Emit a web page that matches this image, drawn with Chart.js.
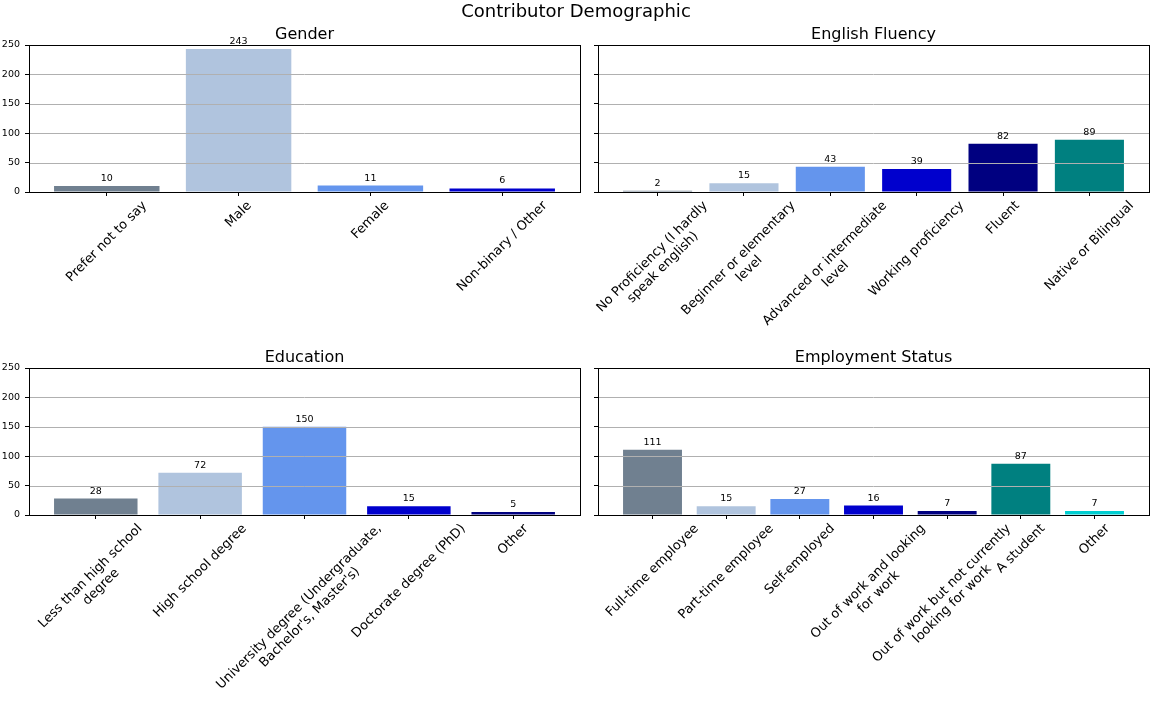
<!DOCTYPE html>
<html>
<head>
<meta charset="utf-8">
<script src="https://cdn.jsdelivr.net/npm/chart.js@4/dist/chart.umd.min.js"></script>
<style>
  html, body { margin: 0; padding: 0; background: #ffffff; }
  #wrap { position: relative; width: 1152px; height: 720px; background: #ffffff; }
  #wrap canvas { position: absolute; left: 0; top: 0; }
</style>
</head>
<body>
<div id="wrap">
  <canvas id="c1" width="1152" height="720"></canvas>
  <canvas id="c2" width="1152" height="720"></canvas>
  <canvas id="c3" width="1152" height="720"></canvas>
  <canvas id="c4" width="1152" height="720"></canvas>
</div>
<script>
// ---------------- data ----------------
const figureTitle = 'Contributor Demographic';

const genderTitle = 'Gender';
const genderCategories = ['Prefer not to say', 'Male', 'Female', 'Non-binary / Other'];
const genderCounts = [10, 243, 11, 6];

const fluencyTitle = 'English Fluency';
const fluencyCategories = ['No Proficiency (I hardly\nspeak english)', 'Beginner or elementary\nlevel',
  'Advanced or intermediate\nlevel', 'Working proficiency', 'Fluent', 'Native or Bilingual'];
const fluencyCounts = [2, 15, 43, 39, 82, 89];

const educationTitle = 'Education';
const educationCategories = ['Less than high school\ndegree', 'High school degree',
  "University degree (Undergraduate,\nBachelor's, Master's)", 'Doctorate degree (PhD)', 'Other'];
const educationCounts = [28, 72, 150, 15, 5];

const employmentTitle = 'Employment Status';
const employmentCategories = ['Full-time employee', 'Part-time employee', 'Self-employed',
  'Out of work and looking\nfor work', 'Out of work but not currently\nlooking for work', 'A student', 'Other'];
const employmentCounts = [111, 15, 27, 16, 7, 87, 7];

const yTickValues = [0, 50, 100, 150, 200, 250];
const barColors = ['#708090', '#B0C4DE', '#6495ED', '#0000CD', '#000080', '#008080', '#00CED1'];

// ---------------- styling / layout ----------------
const FONT = '"DejaVu Sans", sans-serif';
const Y_AXIS_W = 29;
const X_AXIS_H = 5;
const CW = 1152, CH = 720;

function frameAndTextPlugin(title, categories, counts, drawSuptitle) {
  return {
    id: 'mplStyle',
    afterDatasetsDraw(chart) {
      const ctx = chart.ctx;
      const a = chart.chartArea;
      const xs = chart.scales.x, ys = chart.scales.y;
      ctx.save();
      // horizontal grid lines on top of bars
      ctx.strokeStyle = '#b0b0b0';
      ctx.lineWidth = 1;
      yTickValues.forEach(v => {
        const y = Math.round(ys.getPixelForValue(v)) + 0.5;
        ctx.beginPath(); ctx.moveTo(a.left, y); ctx.lineTo(a.right, y); ctx.stroke();
      });
      // frame (spines)
      ctx.strokeStyle = '#000000';
      ctx.strokeRect(Math.round(a.left) + 0.5, Math.round(a.top) + 0.5,
        Math.round(a.right - a.left), Math.round(a.bottom - a.top));
      // value labels
      ctx.fillStyle = '#000000';
      ctx.font = '9.5px ' + FONT;
      ctx.textAlign = 'center';
      ctx.textBaseline = 'alphabetic';
      counts.forEach((v, i) => {
        const x = xs.getPixelForValue(i);
        const y = ys.getPixelForValue(v);
        ctx.fillText(String(v), x, y - 5);
      });
      // x tick labels, rotated 45 deg, centered on tick (matplotlib style)
      const fs = 13;
      ctx.font = fs + 'px ' + FONT;
      const spacing = 1.16 * fs;
      const ascent = 0.76 * fs;
      categories.forEach((c, i) => {
        const lines = c.split('\n');
        const W = Math.max(...lines.map(l => ctx.measureText(l).width));
        const H = (lines.length - 1) * spacing + 1.0 * fs;
        const side = (W + H) / Math.SQRT2;
        const cx = xs.getPixelForValue(i);
        const cy = a.bottom + 7 + side / 2;
        ctx.save();
        ctx.translate(cx, cy);
        ctx.rotate(-Math.PI / 4);
        ctx.textAlign = 'center';
        ctx.textBaseline = 'alphabetic';
        lines.forEach((l, k) => {
          ctx.fillText(l, 0, -H / 2 + ascent + k * spacing);
        });
        ctx.restore();
      });
      // subplot title
      ctx.font = '16px ' + FONT;
      ctx.textAlign = 'center';
      ctx.textBaseline = 'alphabetic';
      ctx.fillText(title, (a.left + a.right) / 2, a.top - 6);
      if (drawSuptitle) {
        ctx.font = '18px ' + FONT;
        ctx.fillText(figureTitle, CW / 2, 17);
      }
      ctx.restore();
    }
  };
}

function makeChart(id, title, categories, counts, box, showYLabels, drawSuptitle) {
  const n = categories.length;
  const span = (n - 1) + 0.8;
  const xmin = -0.4 - 0.05 * span;
  const xmax = (n - 1) + 0.4 + 0.05 * span;
  return new Chart(document.getElementById(id), {
    type: 'bar',
    data: {
      datasets: [{
        data: counts.map((v, i) => ({ x: i, y: v })),
        backgroundColor: barColors.slice(0, n),
        borderWidth: 0,
        categoryPercentage: 1.0,
        barPercentage: 0.8
      }]
    },
    options: {
      responsive: false,
      animation: false,
      events: [],
      layout: {
        padding: {
          left: box.left - Y_AXIS_W,
          right: CW - box.right,
          top: box.top,
          bottom: CH - box.bottom - X_AXIS_H
        }
      },
      plugins: { legend: { display: false }, tooltip: { enabled: false }, title: { display: false } },
      scales: {
        x: {
          type: 'linear',
          min: xmin,
          max: xmax,
          offset: false,
          afterBuildTicks: s => { s.ticks = categories.map((c, i) => ({ value: i })); },
          afterFit: s => { s.height = X_AXIS_H; },
          ticks: { display: false },
          grid: { offset: false, drawOnChartArea: false, drawTicks: true, tickLength: 4, color: '#000000', lineWidth: 1 },
          border: { display: true, color: '#000000', width: 1 }
        },
        y: {
          type: 'linear',
          min: 0,
          max: 250,
          afterBuildTicks: s => { s.ticks = yTickValues.map(v => ({ value: v })); },
          afterFit: s => { s.width = Y_AXIS_W; },
          ticks: {
            display: showYLabels,
            color: '#000000',
            padding: 5,
            font: { family: FONT, size: 9.5 }
          },
          grid: { drawOnChartArea: false, drawTicks: true, tickLength: 4, color: '#000000', lineWidth: 1 },
          border: { display: true, color: '#000000', width: 1 }
        }
      }
    },
    plugins: [frameAndTextPlugin(title, categories, counts, drawSuptitle)]
  });
}

makeChart('c1', genderTitle, genderCategories, genderCounts, { left: 29, right: 580, top: 45, bottom: 192 }, true, true);
makeChart('c2', fluencyTitle, fluencyCategories, fluencyCounts, { left: 598, right: 1149, top: 45, bottom: 192 }, false, false);
makeChart('c3', educationTitle, educationCategories, educationCounts, { left: 29, right: 580, top: 368, bottom: 515 }, true, false);
makeChart('c4', employmentTitle, employmentCategories, employmentCounts, { left: 598, right: 1149, top: 368, bottom: 515 }, false, false);
</script>
</body>
</html>
